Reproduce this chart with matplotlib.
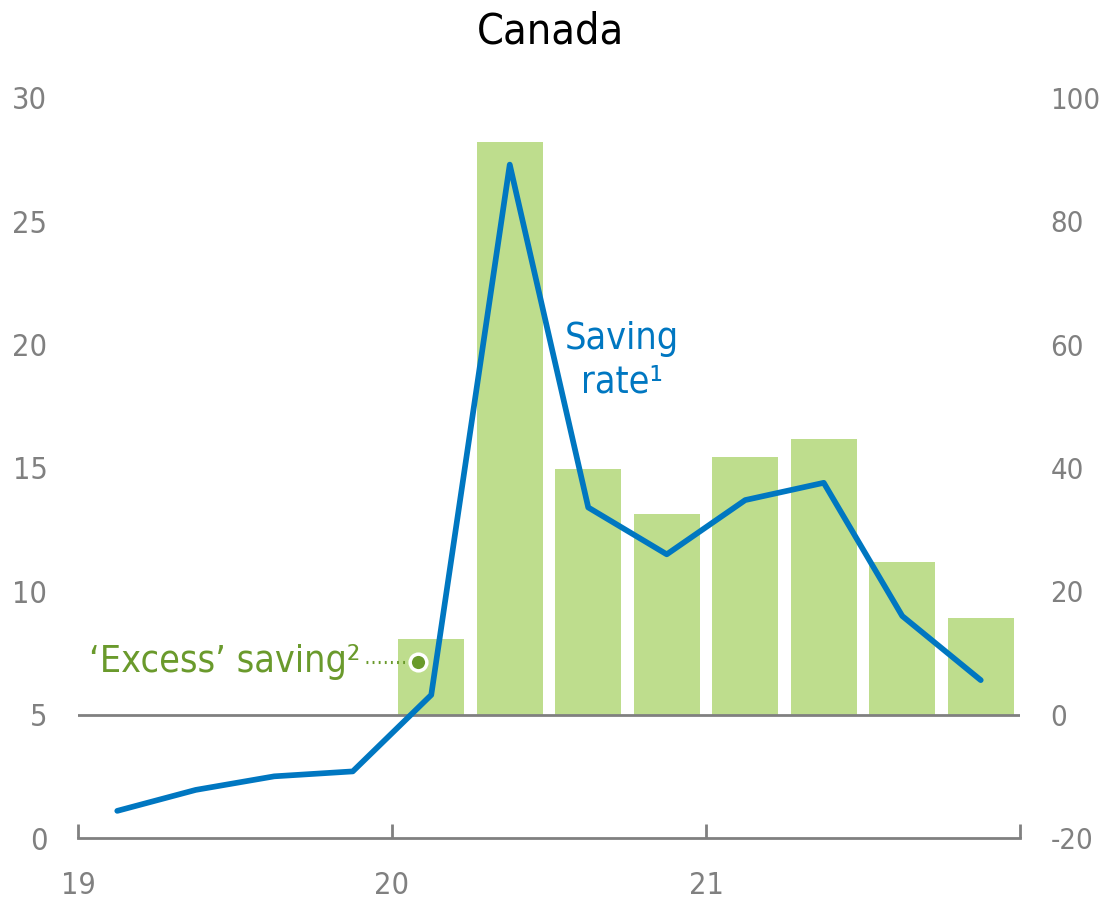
import numpy as np
import matplotlib
matplotlib.use('Agg')
from matplotlib import pyplot as plt

plt.rcParams['font.family'] = ['Liberation Sans Narrow', 'DejaVu Sans']
plt.rcParams['font.stretch'] = 'condensed'
plt.rcParams['axes.unicode_minus'] = False

# quarters 2019Q1 .. 2021Q4
quarters = ['19Q1', '19Q2', '19Q3', '19Q4', '20Q1', '20Q2', '20Q3', '20Q4',
            '21Q1', '21Q2', '21Q3', '21Q4']
saving_rate = [1.1, 1.95, 2.5, 2.7, 5.8, 27.3, 13.4, 11.5, 13.7, 14.4, 9.0, 6.4]

# excess saving bars (right axis), 2020Q1 .. 2021Q4
excess_quarters = quarters[4:]
excess_saving = [12.2, 92.9, 39.9, 32.6, 41.8, 44.7, 24.8, 15.6]

year_ticks = [0, 4, 8, 12]
year_labels = ['19', '20', '21', '']

blue = '#0077c1'
green_bar = '#bedd8d'
green_text = '#6a9a2c'
grey = '#808080'

x_line = np.arange(len(quarters)) + 0.5
x_bar = np.array([quarters.index(q) for q in excess_quarters]) + 0.5

fig = plt.figure(figsize=(11.01, 9.01), dpi=100)
ax = fig.add_axes([78 / 1101, 63 / 901, 942 / 1101, 740 / 901])
ax2 = ax.twinx()

ax2.bar(x_bar, excess_saving, width=0.84, color=green_bar, zorder=1)
ax2.set_ylim(-20, 100)
ax2.set_yticks([-20, 0, 20, 40, 60, 80, 100])
ax2.axhline(0, color=grey, lw=2, zorder=2)

ax.set_zorder(ax2.get_zorder() + 1)
ax.patch.set_visible(False)
ax.plot(x_line, saving_rate, color=blue, lw=4.1, solid_capstyle='round',
        solid_joinstyle='round')
ax.set_ylim(0, 30)
ax.set_yticks([0, 5, 10, 15, 20, 25, 30])
ax.set_xlim(0, 12)
ax.set_xticks(year_ticks)
ax.set_xticklabels(year_labels)

for a in (ax, ax2):
    for s in ['top', 'left', 'right']:
        a.spines[s].set_visible(False)
ax2.spines['bottom'].set_visible(False)
ax.spines['bottom'].set_color(grey)
ax.spines['bottom'].set_linewidth(2)

ax.tick_params(axis='y', length=0, pad=22, labelsize=22, labelcolor=grey)
ax2.tick_params(axis='y', length=0, pad=22, labelsize=21, labelcolor=grey)
ax.tick_params(axis='x', direction='in', length=10, width=2, color=grey,
               pad=24, labelsize=22, labelcolor=grey)

# annotations
ax.text(6.93, 19.35, 'Saving\nrate\u00b9', color=blue, fontsize=27,
        ha='center', va='center', linespacing=1.25)

ax2.plot([3.67, 4.3], [8.5, 8.5], color=green_text, lw=2.2, ls=(0, (0.6, 1.4)),
         zorder=3)
ax2.plot([4.33], [8.5], marker='o', ms=12, mfc=green_text, mec='white',
         mew=2.5, zorder=4)
ax2.text(3.6, 8.5, '\u2018Excess\u2019 saving\u00b2', color=green_text,
         fontsize=27, ha='right', va='center')

fig.text(0.5, 0.965, 'Canada', ha='center', va='center', fontsize=31,
         color='black')

fig.savefig('out.png', dpi=100)
